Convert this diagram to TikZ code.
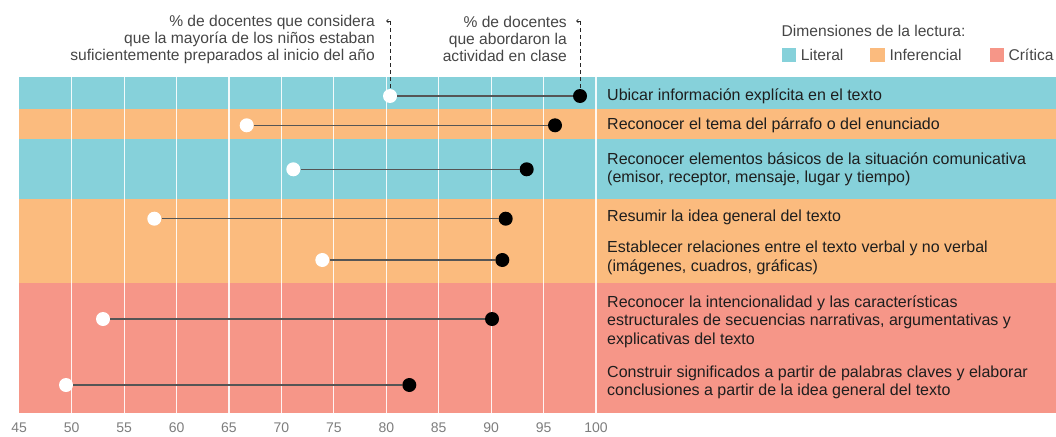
\documentclass[tikz,border=0pt]{standalone}
\usepackage{fontspec}
\setmainfont{Liberation Sans}
\usetikzlibrary{arrows.meta}
\definecolor{lit}{RGB}{134,209,218}
\definecolor{inf}{RGB}{251,187,126}
\definecolor{cri}{RGB}{246,150,136}
\definecolor{txt}{RGB}{30,30,30}
\definecolor{hdr}{RGB}{70,70,70}
\definecolor{axl}{RGB}{125,125,125}
\definecolor{conncol}{RGB}{85,85,85}
\begin{document}
\begin{tikzpicture}[x=1pt,y=-1pt,
  wdot/.style={circle,fill=white,inner sep=0pt,minimum size=14pt},
  bdot/.style={circle,fill=black,inner sep=0pt,minimum size=14pt},
  connline/.style={draw=conncol,line width=1.2pt},
  dashline/.style={draw=black!85,line width=0.9pt,dash pattern=on 4pt off 3pt},
  rowtxt/.style={anchor=west,text=txt,font=\fontsize{16}{18.5}\selectfont,align=left,inner sep=0pt},
  hdrtxt/.style={anchor=east,text=hdr,font=\fontsize{15.6}{17}\selectfont,align=right,inner sep=0pt},
  legtxt/.style={anchor=west,text=hdr,font=\fontsize{15.6}{17}\selectfont,inner sep=0pt},
  swatch/.style={inner sep=0pt,minimum width=14.5pt,minimum height=14.5pt},
  axtxt/.style={text=axl,font=\fontsize{14}{15}\selectfont,inner sep=0pt}
]
\useasboundingbox (0,0) rectangle (1056,436);
% bands
\fill[lit] (19.25,77) rectangle (1056,109.3);
\fill[inf] (19.25,109.3) rectangle (1056,139.3);
\fill[lit] (19.25,139.3) rectangle (1056,199);
\fill[inf] (19.25,199) rectangle (1056,283.3);
\fill[cri] (19.25,283.3) rectangle (1056,413);
% gridlines
\foreach \v in {50,55,...,100}
  \draw[white,opacity=0.9,line width=1.2pt] ({19.25+(\v-45)*10.487},77) -- ({19.25+(\v-45)*10.487},413);
% axis labels
\foreach \v in {45,50,...,100}
  \node[axtxt] (ax\v) at ({19.25+(\v-45)*10.487},427.5) {\v};
% dots
\node[wdot] (w1) at (390,96) {};     \node[bdot] (b1) at (580,96) {};
\node[wdot] (w2) at (246.7,125.3) {}; \node[bdot] (b2) at (555,125.3) {};
\node[wdot] (w3) at (293.3,169.3) {}; \node[bdot] (b3) at (526.7,169.3) {};
\node[wdot] (w4) at (154.3,218.7) {}; \node[bdot] (b4) at (505.7,218.7) {};
\node[wdot] (w5) at (322.3,260) {};   \node[bdot] (b5) at (502.3,260) {};
\node[wdot] (w6) at (103,319) {};     \node[bdot] (b6) at (492,319) {};
\node[wdot] (w7) at (66,385) {};      \node[bdot] (b7) at (409.3,385) {};
\foreach \i in {1,...,7} \draw[connline] (w\i) -- (b\i);
% row labels
\node[rowtxt] (r1) at (607,96) {Ubicar información explícita en el texto};
\node[rowtxt] (r2) at (607,125.3) {Reconocer el tema del párrafo o del enunciado};
\node[rowtxt] (r3) at (607,169.5) {Reconocer elementos básicos de la situación comunicativa\\(emisor, receptor, mensaje, lugar y tiempo)};
\node[rowtxt] (r4) at (607,217) {Resumir la idea general del texto};
\node[rowtxt] (r5) at (607,257.7) {Establecer relaciones entre el texto verbal y no verbal\\(imágenes, cuadros, gráficas)};
\node[rowtxt] (r6) at (607,321.5) {Reconocer la intencionalidad y las características\\estructurales de secuencias narrativas, argumentativas y\\explicativas del texto};
\node[rowtxt] (r7) at (607,382.5) {Construir significados a partir de palabras claves y elaborar\\conclusiones a partir de la idea general del texto};
% header annotations
\node[hdrtxt] (h1) at (375,39) {\% de docentes que considera\\que la mayoría de los niños estaban\\suficientemente preparados al inicio del año};
\node[hdrtxt] (h2) at (567,39) {\% de docentes\\que abordaron la\\actividad en clase};
\coordinate (t1) at (390,21);
\coordinate (t2) at (580,21);
\coordinate (k1) at (386,21);
\coordinate (k2) at (576,21);
\draw[dashline] (t1) -- (w1);
\draw[dashline] (t2) -- (b1);
\draw[black!85,line width=0.8pt,-{Straight Barb[length=1.8pt,width=3.5pt]}] (t1) -- (k1);
\draw[black!85,line width=0.8pt,-{Straight Barb[length=1.8pt,width=3.5pt]}] (t2) -- (k2);
% legend
\node[legtxt] (lt) at (781.5,30.7) {Dimensiones de la lectura:};
\node[swatch,fill=lit,anchor=west] (sL) at (781.5,55) {};
\node[legtxt] (lL) at (800.7,55) {Literal};
\node[swatch,fill=inf,anchor=west] (sI) at (870,55) {};
\node[legtxt] (lI) at (889.3,55) {Inferencial};
\node[swatch,fill=cri,anchor=west] (sC) at (989.3,55) {};
\node[legtxt] (lC) at (1008.3,55) {Crítica};
\end{tikzpicture}
\end{document}
